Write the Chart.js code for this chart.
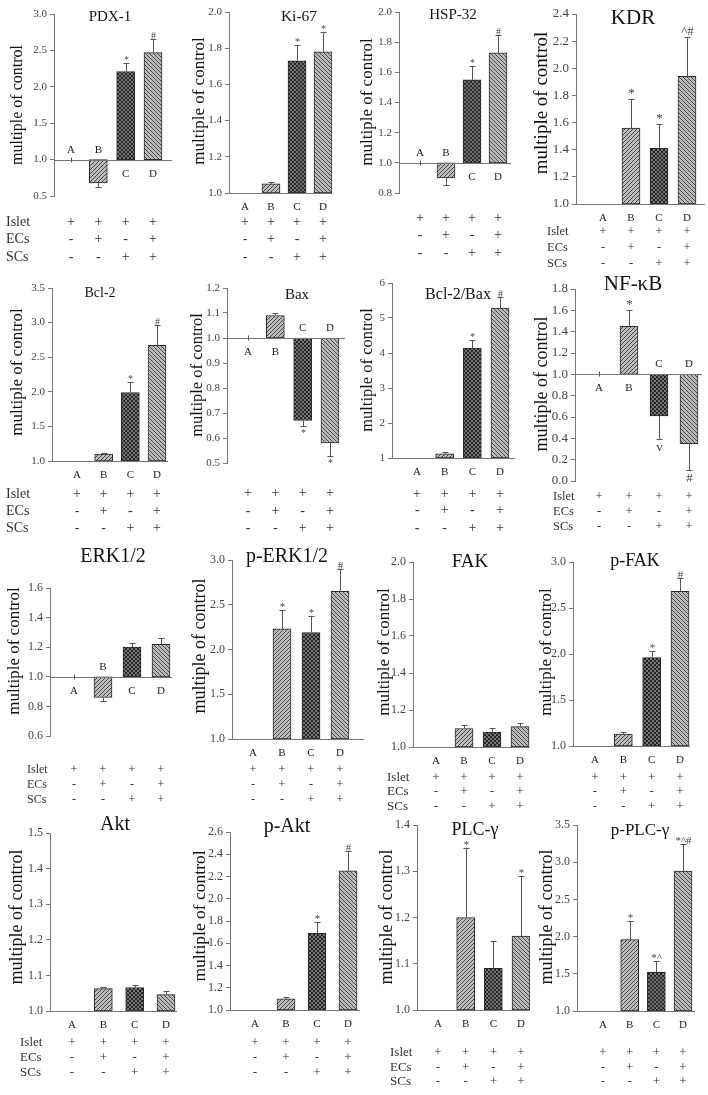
<!DOCTYPE html>
<html>
<head>
<meta charset="utf-8">
<script src="https://cdn.jsdelivr.net/npm/chart.js@4.4.1/dist/chart.umd.min.js"></script>
<style>
  html, body { margin: 0; padding: 0; background: #fff; }
  #wrap { position: relative; width: 708px; height: 1095px; overflow: hidden; background: #fff; }
  #wrap canvas { position: absolute; }
</style>
</head>
<body>
<div id="wrap"></div>
<script>
// groups + treatment table
const groups = ['A', 'B', 'C', 'D'];
const rowNames = ['Islet', 'ECs', 'SCs'];
const isletRow = ['+', '+', '+', '+'];
const ecsRow = ['-', '+', '-', '+'];
const scsRow = ['-', '-', '+', '+'];

// values (multiple of control), error, significance marks, axis [min, max, step]
const pdx1Mean = [1.00, 0.68, 2.21, 2.47];
const pdx1Err = [0, 0.05, 0.12, 0.19];
const pdx1Mark = ['', '', '*', '#'];
const pdx1Ticks = [0.5, 3.0, 0.5];

const ki67Mean = [1.00, 1.05, 1.73, 1.78];
const ki67Err = [0, 0.01, 0.09, 0.11];
const ki67Mark = ['', '', '*', '*'];
const ki67Ticks = [1.0, 2.0, 0.2];

const hsp32Mean = [1.00, 0.90, 1.55, 1.73];
const hsp32Err = [0, 0.045, 0.095, 0.12];
const hsp32Mark = ['', '', '*', '#'];
const hsp32Ticks = [0.8, 2.0, 0.2];

const kdrMean = [1.00, 1.56, 1.41, 1.94];
const kdrErr = [0, 0.21, 0.18, 0.29];
const kdrMark = ['', '*', '*', '^#'];
const kdrTicks = [1.0, 2.4, 0.2];

const bcl2Mean = [1.00, 1.10, 1.99, 2.67];
const bcl2Err = [0, 0.01, 0.15, 0.30];
const bcl2Mark = ['', '', '*', '#'];
const bcl2Ticks = [1.0, 3.5, 0.5];

const baxMean = [1.00, 1.09, 0.67, 0.58];
const baxErr = [0, 0.01, 0.02, 0.05];
const baxMark = ['', '', '*', '*'];
const baxTicks = [0.5, 1.2, 0.1];

const ratioMean = [1.00, 1.12, 4.14, 5.28];
const ratioErr = [0, 0.05, 0.23, 0.32];
const ratioMark = ['', '', '*', '#'];
const ratioTicks = [1, 6, 1];

const nfkbMean = [1.00, 1.45, 0.61, 0.35];
const nfkbErr = [0, 0.15, 0.22, 0.25];
const nfkbMark = ['', '*', 'v', '#'];
const nfkbTicks = [0.0, 1.8, 0.2];

const erkMean = [1.00, 0.86, 1.20, 1.22];
const erkErr = [0, 0.025, 0.03, 0.045];
const erkMark = ['', '', '', ''];
const erkTicks = [0.6, 1.6, 0.2];

const perkMean = [1.00, 2.23, 2.19, 2.65];
const perkErr = [0, 0.21, 0.18, 0.25];
const perkMark = ['', '*', '*', '#'];
const perkTicks = [1.0, 3.0, 0.5];

const fakMean = [1.00, 1.10, 1.08, 1.11];
const fakErr = [0, 0.02, 0.02, 0.02];
const fakMark = ['', '', '', ''];
const fakTicks = [1.0, 2.0, 0.2];

const pfakMean = [1.00, 1.13, 1.96, 2.68];
const pfakErr = [0, 0.02, 0.07, 0.15];
const pfakMark = ['', '', '*', '#'];
const pfakTicks = [1.0, 3.0, 0.5];

const aktMean = [1.00, 1.063, 1.066, 1.046];
const aktErr = [0, 0.005, 0.008, 0.01];
const aktMark = ['', '', '', ''];
const aktTicks = [1.0, 1.5, 0.1];

const paktMean = [1.00, 1.10, 1.69, 2.25];
const paktErr = [0, 0.02, 0.10, 0.18];
const paktMark = ['', '', '*', '#'];
const paktTicks = [1.0, 2.6, 0.2];

const plcMean = [1.00, 1.20, 1.09, 1.16];
const plcErr = [0, 0.15, 0.06, 0.13];
const plcMark = ['', '*', '', '*'];
const plcTicks = [1.0, 1.4, 0.1];

const pplcMean = [1.00, 1.96, 1.52, 2.88];
const pplcErr = [0, 0.25, 0.15, 0.36];
const pplcMark = ['', '*', '*^', '*^#'];
const pplcTicks = [1.0, 3.5, 0.5];

const tableRows = [isletRow, ecsRow, scsRow];
const SERIF = '"Liberation Serif", "Times New Roman", serif';
const font = s => `${s}px ${SERIF}`;

// layout of each panel on the page (pixel positions)
const panels = [
  { title: 'PDX-1', mean: pdx1Mean, err: pdx1Err, mark: pdx1Mark, ticks: pdx1Ticks,
    x0: 54, x1: 172, yTop: 14, yBot: 196, cA: 71, cD: 153, tX: 110, tY: 17, tS: 15,
    lX: 18, lY: 105, lS: 16, tick: 11, aAbove: true, rows: [222, 239, 257], rowX: 6, tbl: 14, mk: 10 },
  { title: 'Ki-67', mean: ki67Mean, err: ki67Err, mark: ki67Mark, ticks: ki67Ticks,
    x0: 229, x1: 332, yTop: 12, yBot: 193, cA: 245, cD: 323, tX: 299, tY: 17, tS: 15.5,
    lX: 200, lY: 101, lS: 17, tick: 11, rows: [222, 239, 257], rowX: null, tbl: 14, mk: 10 },
  { title: 'HSP-32', mean: hsp32Mean, err: hsp32Err, mark: hsp32Mark, ticks: hsp32Ticks,
    x0: 399, x1: 511, yTop: 12, yBot: 193, cA: 420, cD: 498, tX: 453, tY: 15, tS: 15,
    lX: 368, lY: 102, lS: 17, tick: 11, aAbove: true, rows: [218, 235, 253], rowX: null, tbl: 14, mk: 10 },
  { title: 'KDR', mean: kdrMean, err: kdrErr, mark: kdrMark, ticks: kdrTicks,
    x0: 576, x1: 705, yTop: 14, yBot: 204, cA: 603, cD: 687, tX: 633, tY: 18, tS: 21,
    lX: 542, lY: 103, lS: 19, tick: 13, rows: [232, 248, 264], rowX: 547, tbl: 12.5, mk: 13 },
  { title: 'Bcl-2', mean: bcl2Mean, err: bcl2Err, mark: bcl2Mark, ticks: bcl2Ticks,
    x0: 52, x1: 168, yTop: 288, yBot: 461, cA: 77, cD: 157, tX: 100, tY: 293, tS: 14,
    lX: 18, lY: 372, lS: 17, tick: 11, rows: [494, 511, 528], rowX: 6, tbl: 14, mk: 10 },
  { title: 'Bax', mean: baxMean, err: baxErr, mark: baxMark, ticks: baxTicks,
    x0: 227, x1: 345, yTop: 288, yBot: 463, cA: 248, cD: 330, tX: 297, tY: 295, tS: 15,
    lX: 198, lY: 375, lS: 16.5, tick: 11, aAbove: false, rows: [493, 511, 528], rowX: null, tbl: 14, mk: 10 },
  { title: 'Bcl-2/Bax', mean: ratioMean, err: ratioErr, mark: ratioMark, ticks: ratioTicks,
    x0: 392, x1: 515, yTop: 283, yBot: 458, cA: 417, cD: 500, tX: 458, tY: 295, tS: 16,
    lX: 368, lY: 370, lS: 16.5, tick: 11, rows: [494, 510, 528], rowX: null, tbl: 14, mk: 10 },
  { title: 'NF-κB', mean: nfkbMean, err: nfkbErr, mark: nfkbMark, ticks: nfkbTicks,
    x0: 575, x1: 702, yTop: 289, yBot: 481, cA: 599, cD: 689, tX: 633, tY: 284, tS: 21,
    lX: 542, lY: 384, lS: 18, tick: 13, aAbove: false, rows: [497, 512, 527], rowX: 553, tbl: 12.5, mk: 13 },
  { title: 'ERK1/2', mean: erkMean, err: erkErr, mark: erkMark, ticks: erkTicks,
    x0: 50, x1: 172, yTop: 588, yBot: 736, cA: 74, cD: 161, tX: 113, tY: 557, tS: 20,
    lX: 15, lY: 651, lS: 17, tick: 12, aAbove: false, rows: [770, 785, 800], rowX: 27, tbl: 12, mk: 10 },
  { title: 'p-ERK1/2', mean: perkMean, err: perkErr, mark: perkMark, ticks: perkTicks,
    x0: 232, x1: 364, yTop: 560, yBot: 739, cA: 253, cD: 340, tX: 287, tY: 557, tS: 20,
    lX: 200, lY: 646, lS: 18, tick: 12, rows: [770, 785, 800], rowX: null, tbl: 12, mk: 11 },
  { title: 'FAK', mean: fakMean, err: fakErr, mark: fakMark, ticks: fakTicks,
    x0: 413, x1: 530, yTop: 562, yBot: 747, cA: 436, cD: 520, tX: 470, tY: 562, tS: 19,
    lX: 385, lY: 652, lS: 17, tick: 12, rows: [778, 792, 807], rowX: 387, tbl: 13, mk: 11 },
  { title: 'p-FAK', mean: pfakMean, err: pfakErr, mark: pfakMark, ticks: pfakTicks,
    x0: 573, x1: 690, yTop: 562, yBot: 746, cA: 595, cD: 680, tX: 635, tY: 561, tS: 18,
    lX: 547, lY: 652, lS: 17, tick: 12, rows: [778, 792, 807], rowX: null, tbl: 13, mk: 11 },
  { title: 'Akt', mean: aktMean, err: aktErr, mark: aktMark, ticks: aktTicks,
    x0: 50, x1: 177, yTop: 833, yBot: 1011, cA: 72, cD: 166, tX: 115, tY: 825, tS: 20,
    lX: 17, lY: 917, lS: 18, tick: 12, rows: [1043, 1058, 1073], rowX: 20, tbl: 13, mk: 11 },
  { title: 'p-Akt', mean: paktMean, err: paktErr, mark: paktMark, ticks: paktTicks,
    x0: 230, x1: 360, yTop: 832, yBot: 1010, cA: 255, cD: 348, tX: 287, tY: 827, tS: 20,
    lX: 200, lY: 916, lS: 17.5, tick: 12, rows: [1043, 1058, 1073], rowX: null, tbl: 13, mk: 11 },
  { title: 'PLC-γ', mean: plcMean, err: plcErr, mark: plcMark, ticks: plcTicks,
    x0: 417, x1: 530, yTop: 825, yBot: 1010, cA: 438, cD: 521, tX: 475, tY: 830, tS: 18,
    lX: 387, lY: 917, lS: 18, tick: 12, rows: [1053, 1068, 1082], rowX: 390, tbl: 13, mk: 11 },
  { title: 'p-PLC-γ', mean: pplcMean, err: pplcErr, mark: pplcMark, ticks: pplcTicks,
    x0: 577, x1: 695, yTop: 825, yBot: 1011, cA: 603, cD: 683, tX: 640, tY: 831, tS: 17,
    lX: 547, lY: 917, lS: 18, tick: 12, rows: [1053, 1068, 1082], rowX: null, tbl: 13, mk: 11 }
];

// hatch fills: B = "/" , C = dark cross hatch, D = "\"
function makeHatch(ctx, bg, fg, kind) {
  const t = document.createElement('canvas');
  t.width = 4; t.height = 4;
  const g = t.getContext('2d');
  g.fillStyle = bg;
  g.fillRect(0, 0, 4, 4);
  g.fillStyle = fg;
  for (let x = 0; x < 4; x++) {
    for (let y = 0; y < 4; y++) {
      const fwd = (x + y) % 4 === 3;
      const back = (x - y + 4) % 4 === 0;
      if ((kind === '/' && fwd) || (kind === '\\' && back) || (kind === 'x' && (fwd || back))) {
        g.fillRect(x, y, 1, 1);
      }
    }
  }
  return ctx.createPattern(t, 'repeat');
}

function panelPlugin(cfg, off) {
  return {
    id: 'panelText',
    afterDatasetsDraw(chart) {
      const c = chart.ctx;
      const xs = chart.scales.x, ys = chart.scales.y;
      const area = chart.chartArea;
      const base = Math.round(ys.getPixelForValue(1)) + 0.5;
      const atBottom = cfg.ticks[0] === 1;
      c.save();

      // baseline at 1.0
      c.strokeStyle = '#777';
      c.lineWidth = 1;
      c.beginPath();
      c.moveTo(area.left, base);
      c.lineTo(area.right, base);
      c.stroke();

      // error bars + significance marks
      cfg.mean.forEach((v, i) => {
        const x = Math.round(xs.getPixelForValue(i)) + 0.5;
        const up = v >= 1;
        const tipVal = up ? v + cfg.err[i] : v - cfg.err[i];
        const yv = ys.getPixelForValue(v);
        const yt = Math.round(ys.getPixelForValue(tipVal)) + 0.5;
        c.strokeStyle = '#555';
        c.beginPath();
        if (cfg.err[i] > 0) {
          c.moveTo(x, yv); c.lineTo(x, yt);
          c.moveTo(x - 3, yt); c.lineTo(x + 3, yt);
        } else if (!atBottom) {
          c.moveTo(x, base - 3); c.lineTo(x, base + 2);
        }
        c.stroke();
        if (cfg.mark[i]) {
          c.fillStyle = '#444';
          c.font = font(cfg.mk);
          c.textAlign = 'center';
          if (up) {
            c.textBaseline = 'alphabetic';
            c.fillText(cfg.mark[i], x, yt - (cfg.mk > 11 ? 3 : 1));
          } else {
            c.textBaseline = 'top';
            c.fillText(cfg.mark[i], x, yt + 2);
          }
        }
      });

      // group letters
      c.fillStyle = '#222';
      c.font = font(11);
      c.textAlign = 'center';
      c.textBaseline = 'middle';
      groups.forEach((g, i) => {
        const x = xs.getPixelForValue(i);
        const v = cfg.mean[i];
        let above = v < 1 || (v === 1 && cfg.aAbove);
        if (atBottom) above = false;
        c.fillText(g, x, above ? base - 10 : base + 14);
      });

      // title
      c.fillStyle = '#111';
      c.font = font(cfg.tS);
      c.fillText(cfg.title, cfg.tX - off.left, cfg.tY - off.top);

      // y axis title
      c.save();
      c.translate(cfg.lX - off.left, cfg.lY - off.top);
      c.rotate(-Math.PI / 2);
      c.font = font(cfg.lS);
      c.fillText('multiple of control', 0, 0);
      c.restore();

      // treatment table
      c.fillStyle = '#333';
      c.font = font(cfg.tbl);
      tableRows.forEach((row, r) => {
        const y = cfg.rows[r] - off.top;
        if (cfg.rowX !== null) {
          c.textAlign = 'left';
          c.fillText(rowNames[r], cfg.rowX - off.left, y);
        }
        c.textAlign = 'center';
        row.forEach((s, i) => c.fillText(s, xs.getPixelForValue(i), y));
      });

      c.restore();
    }
  };
}

const wrap = document.getElementById('wrap');

panels.forEach(cfg => {
  const left = Math.max(0, cfg.x0 - 54);
  const top = Math.max(0, Math.min(cfg.yTop, cfg.tY - cfg.tS) - 10);
  const right = cfg.x1 + 10;
  const bottom = cfg.rows[2] + 12;
  const canvas = document.createElement('canvas');
  canvas.width = right - left;
  canvas.height = bottom - top;
  canvas.style.left = left + 'px';
  canvas.style.top = top + 'px';
  wrap.appendChild(canvas);
  const ctx = canvas.getContext('2d');

  const fills = ['#ffffff',
    makeHatch(ctx, '#bcbcbc', '#4a4a4a', '/'),
    makeHatch(ctx, '#757575', '#262626', 'x'),
    makeHatch(ctx, '#b8b8b8', '#4e4e4e', '\\')];

  // x range so that bar centres land where they sit in the figure
  const step = (cfg.cD - cfg.cA) / 3;
  const xMin = -(cfg.cA - cfg.x0) / step;
  const xMax = 3 + (cfg.x1 - cfg.cD) / step;
  const dec = cfg.ticks[2] >= 1 ? 0 : 1;

  new Chart(ctx, {
    type: 'bar',
    data: {
      datasets: [{
        data: cfg.mean.map((v, i) => ({ x: i, y: [1, v] })),
        backgroundColor: fills,
        borderColor: '#2a2a2a',
        borderWidth: 1,
        borderSkipped: false,
        barThickness: 18
      }]
    },
    options: {
      responsive: false,
      animation: false,
      events: [],
      layout: {
        padding: { left: 0, top: cfg.yTop - top, right: right - cfg.x1, bottom: bottom - cfg.yBot }
      },
      plugins: { legend: { display: false }, tooltip: { enabled: false } },
      scales: {
        x: { type: 'linear', display: false, offset: false, grid: { offset: false }, min: xMin, max: xMax },
        y: {
          min: cfg.ticks[0],
          max: cfg.ticks[1],
          afterFit: s => { s.width = cfg.x0 - left; },
          ticks: {
            stepSize: cfg.ticks[2],
            autoSkip: false,
            padding: 3,
            color: '#444',
            font: { family: SERIF, size: cfg.tick },
            callback: v => Number(v).toFixed(dec)
          },
          grid: { drawOnChartArea: false, drawTicks: true, tickLength: 4, color: '#777' },
          border: { color: '#777' }
        }
      }
    },
    plugins: [panelPlugin(cfg, { left, top })]
  });
});
</script>
</body>
</html>
